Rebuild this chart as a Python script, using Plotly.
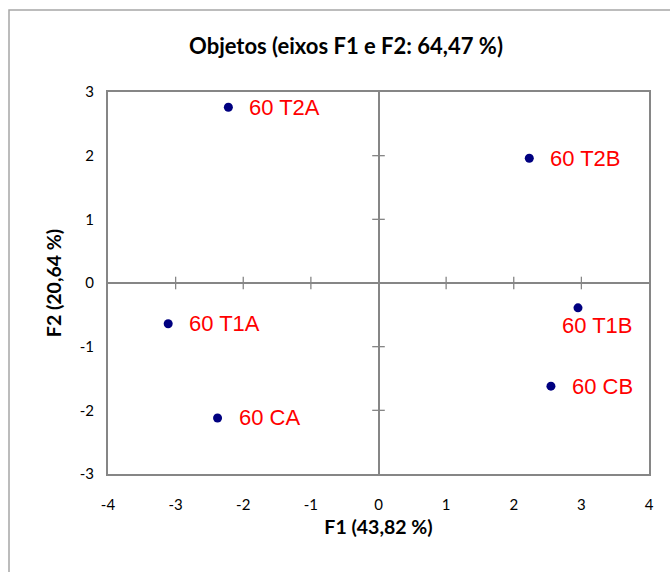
import plotly.graph_objects as go

# ---- data ----
labels = ["60 T2A", "60 T2B", "60 T1A", "60 T1B", "60 CB", "60 CA"]
f1 = [-2.22, 2.23, -3.11, 2.95, 2.55, -2.38]
f2 = [2.76, 1.96, -0.64, -0.39, -1.62, -2.12]
x_ticks = [-4, -3, -2, -1, 0, 1, 2, 3, 4]
x_tick_text = ["-4", "-3", "-2", "-1", "0", "1", "2", "3", "4"]
y_ticks = [-3, -2, -1, 0, 1, 2, 3]
y_tick_text = ["-3", "-2", "-1", "0", "1", "2", "3"]
title_text = "Objetos (eixos F1 e F2: 64,47 %)"
x_title = "F1 (43,82 %)"
y_title = "F2 (20,64 %)"

# label placement (pixel offsets)
label_dx = [19, 19, 19, 20, 19, 19]
label_dy = [0, 0, 0, -18, 0, 0]
label_anchor = ["left", "left", "left", "center", "left", "left"]

CAL = "Lato, Carlito, sans-serif"
ARIAL = "'Liberation Sans', Arial, sans-serif"
GRAY = "#868686"

fig = go.Figure()

# tick marks on zero lines
fig.add_trace(go.Scatter(
    x=[t for t in x_ticks if t not in (-4, 0, 4)], y=[0] * 6,
    mode="markers", marker=dict(symbol="line-ns", size=9, line=dict(color=GRAY, width=1.3)),
    hoverinfo="skip", showlegend=False))
fig.add_trace(go.Scatter(
    x=[0] * 4, y=[t for t in y_ticks if t not in (-3, 0, 3)],
    mode="markers", marker=dict(symbol="line-ew", size=9, line=dict(color=GRAY, width=1.3)),
    hoverinfo="skip", showlegend=False))

fig.add_trace(go.Scatter(
    x=f1, y=f2, mode="markers",
    marker=dict(color="#000080", size=9),
    showlegend=False))

for lab, x, y, dx, dy, anc in zip(labels, f1, f2, label_dx, label_dy, label_anchor):
    fig.add_annotation(x=x, y=y, text=lab, showarrow=False, xanchor=anc, yanchor="middle",
                       xshift=dx, yshift=dy, font=dict(family=ARIAL, size=22, color="#ff0000"))

fig.update_xaxes(range=[-4, 4], tickvals=x_ticks, ticktext=x_tick_text, showgrid=False,
                 zeroline=True, zerolinecolor=GRAY, zerolinewidth=2,
                 showline=True, mirror=True, linecolor=GRAY, linewidth=2,
                 ticks="", ticklabelstandoff=16,
                 tickfont=dict(family=CAL, size=15, color="#000"),
                 title=dict(text=x_title, font=dict(family=CAL, size=19.5, color="#000", weight="bold"), standoff=8))
fig.update_yaxes(range=[-3, 3], tickvals=y_ticks, ticktext=y_tick_text, showgrid=False,
                 zeroline=True, zerolinecolor=GRAY, zerolinewidth=2,
                 showline=True, mirror=True, linecolor=GRAY, linewidth=2,
                 ticks="", ticklabelstandoff=9,
                 tickfont=dict(family=CAL, size=15, color="#000"),
                 title=dict(text=y_title, font=dict(family=CAL, size=19.5, color="#000", weight="bold"), standoff=13))

fig.update_layout(
    width=670, height=572,
    margin=dict(l=108, r=21, t=92, b=98),
    plot_bgcolor="white", paper_bgcolor="white",
    title=dict(text=title_text, x=(346) / 670, xanchor="center", y=1 - 46 / 572, yanchor="middle",
               font=dict(family=CAL, size=22, color="#000", weight="bold")),
    shapes=[dict(type="rect", xref="paper", yref="paper",
                 x0=(9 - 108) / 541, x1=(680 - 108) / 541,
                 y0=(474 - 590) / 382, y1=(474 - 10) / 382,
                 line=dict(color="#a6a6a6", width=1.5), layer="below")],
)

fig.write_html("out.html")
